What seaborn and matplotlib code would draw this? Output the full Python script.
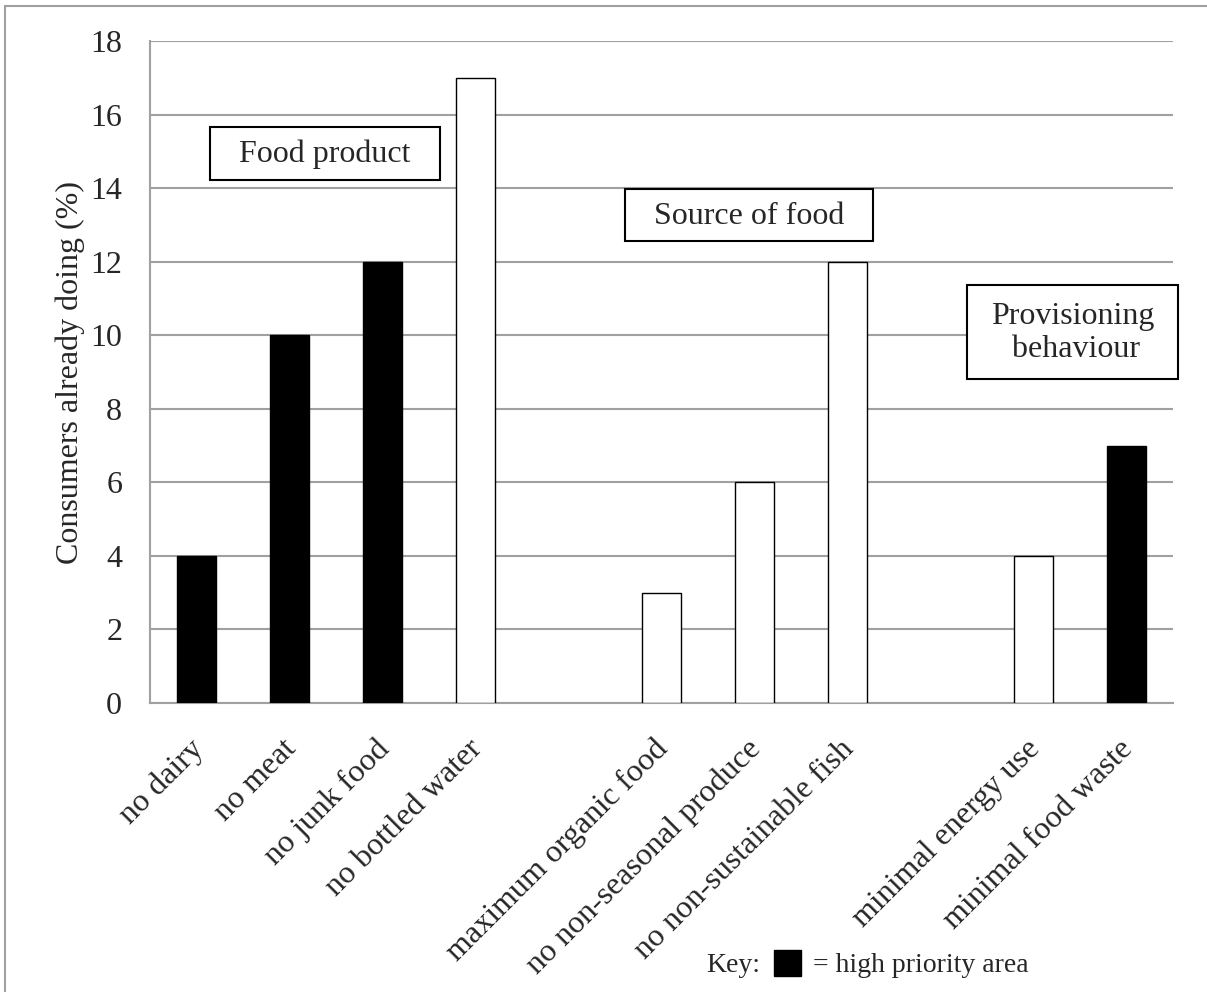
import matplotlib
matplotlib.use("Agg")
import matplotlib.pyplot as plt
from matplotlib.patches import Rectangle
from matplotlib.lines import Line2D
from matplotlib.transforms import ScaledTranslation
import numpy as np
import pandas as pd
import seaborn as sns

# Survey results: share of consumers already doing each behaviour
categories = ["no dairy", "no meat", "no junk food", "no bottled water", "",
              "maximum organic food", "no non-seasonal produce", "no non-sustainable fish", " ",
              "minimal energy use", "minimal food waste"]
values = [4, 10, 12, 17, np.nan, 3, 6, 12, np.nan, 4, 7]
high_priority = [True, True, True, False, False, False, False, False, False, False, True]
y_ticks = [0, 2, 4, 6, 8, 10, 12, 14, 16, 18]
group_labels = ["Food product", "Source of food", "Provisioning\n behaviour"]

df = pd.DataFrame({"category": categories, "value": values, "priority": high_priority})
df_bars = df.dropna()

sns.set_style("white")
plt.rcParams["font.family"] = ["Liberation Serif", "DejaVu Serif"]
FS = 23

W, H = 1207, 992
fig = plt.figure(figsize=(W / 100, H / 100), dpi=100)


def fx(px):
    return px / W


def fy(py):
    return 1 - py / H


ax = fig.add_axes([fx(150), fy(703), (1173 - 150) / W, (703 - 41) / H])

sns.barplot(data=df_bars, x="category", y="value", hue="priority", order=categories,
            palette={True: "black", False: "white"}, edgecolor="black", linewidth=1.0,
            width=0.42, dodge=False, legend=False, ax=ax, zorder=3)

n = len(categories)
ax.set_xlim(-0.5, n - 0.5)
ax.set_ylim(0, 18)
ax.set_yticks(y_ticks)
ax.set_yticklabels([str(t) for t in y_ticks], fontsize=FS)
ax.grid(axis="y", color="#a0a0a0", linewidth=1.5, zorder=0)
ax.grid(axis="x", visible=False)

# Tick marks sit at the category boundaries; labels at the bar centres
ax.set_xticks(np.arange(-0.5, n, 1.0))
ax.set_xticklabels([])
ax.tick_params(axis="x", which="major", length=10, width=1.5, color="#a0a0a0", direction="out")
ax.set_xticks(np.arange(n), minor=True)
ax.set_xticklabels(categories, minor=True, rotation=45, ha="right", rotation_mode="anchor",
                   fontsize=FS)
ax.tick_params(axis="x", which="minor", length=0, pad=14)
shift = ScaledTranslation(-8 / 100, -12 / 100, fig.dpi_scale_trans)
for lbl in ax.get_xticklabels(minor=True):
    lbl.set_transform(lbl.get_transform() + shift)
ax.tick_params(axis="y", length=8, width=1.5, color="#a0a0a0", direction="out", pad=12)

for side in ["top", "right"]:
    ax.spines[side].set_visible(False)
for side in ["left", "bottom"]:
    ax.spines[side].set_color("#a0a0a0")
    ax.spines[side].set_linewidth(1.5)

ax.set_xlabel("")
ax.set_ylabel("Consumers already doing (%)", fontsize=FS, labelpad=4)

# Group captions in framed boxes (pixel extents: left, top, right, bottom)
boxes = [(210, 127, 440, 180), (625, 189, 873, 241), (967, 285, 1178, 379)]
for label, (x0, y0, x1, y1) in zip(group_labels, boxes):
    fig.patches.append(Rectangle((fx(x0), fy(y1)), (x1 - x0) / W, (y1 - y0) / H,
                                 transform=fig.transFigure, facecolor="white",
                                 edgecolor="black", linewidth=1.5, zorder=5))
    fig.text(fx((x0 + x1) / 2), fy((y0 + y1) / 2 + 1), label, fontsize=FS, ha="center",
             va="center", linespacing=1.2, zorder=6)

# Key at the bottom of the figure
KFS = 20
fig.text(fx(706), fy(965), "Key:", fontsize=KFS, ha="left", va="center")
fig.patches.append(Rectangle((fx(774), fy(976)), 27 / W, 26 / H,
                             transform=fig.transFigure, facecolor="black", edgecolor="black"))
fig.text(fx(813), fy(965), "= high priority area", fontsize=KFS, ha="left", va="center")

# Grey frame along the top and left edges
fig.lines.append(Line2D([fx(5), fx(5)], [0, fy(6)], transform=fig.transFigure,
                        color="#a0a0a0", linewidth=1.5))
fig.lines.append(Line2D([fx(5), 1], [fy(6), fy(6)], transform=fig.transFigure,
                        color="#a0a0a0", linewidth=1.5))

fig.savefig("out.png", dpi=100)
